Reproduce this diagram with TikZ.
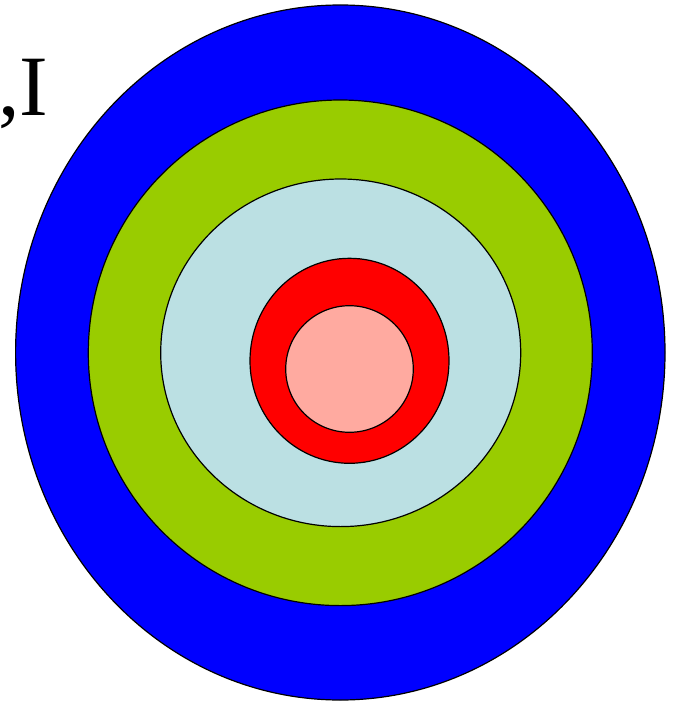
\documentclass[tikz,border=0pt]{standalone}
\usepackage{fontspec}
\setmainfont{Liberation Serif}
\usepackage{xcolor}
\definecolor{ringblue}{HTML}{0000FF}
\definecolor{ringgreen}{HTML}{99CC00}
\definecolor{ringcyan}{HTML}{BBE0E3}
\definecolor{ringred}{HTML}{FF0000}
\definecolor{ringpink}{HTML}{FFAAA0}

\begin{document}
\begin{tikzpicture}[x=1pt,y=-1pt,
	ring/.style={draw=black, line width=1.2pt}]
	\useasboundingbox (0,0) rectangle (674,701);
	% rings, outermost first
	\foreach 
	\cx/\cy/\rx/\ry/\col
	in
	{
		340.3/352.5/324.7/347.5/ringblue,
		340.3/352.8/252/252.8/ringgreen,
		340.7/352.8/180/173.8/ringcyan,
		349.5/360.8/99.5/102.5/ringred,
		349.5/369/63.8/63.3/ringpink}
	{
		\filldraw[ring, fill=\col] (\cx,\cy) ellipse [x radius=\rx pt, y radius=\ry pt];
	}
	\node[anchor=base east, inner sep=0, font=\fontsize{86}{90}\selectfont] (label) at (48.5,115) {,I};
\end{tikzpicture}
\end{document}
